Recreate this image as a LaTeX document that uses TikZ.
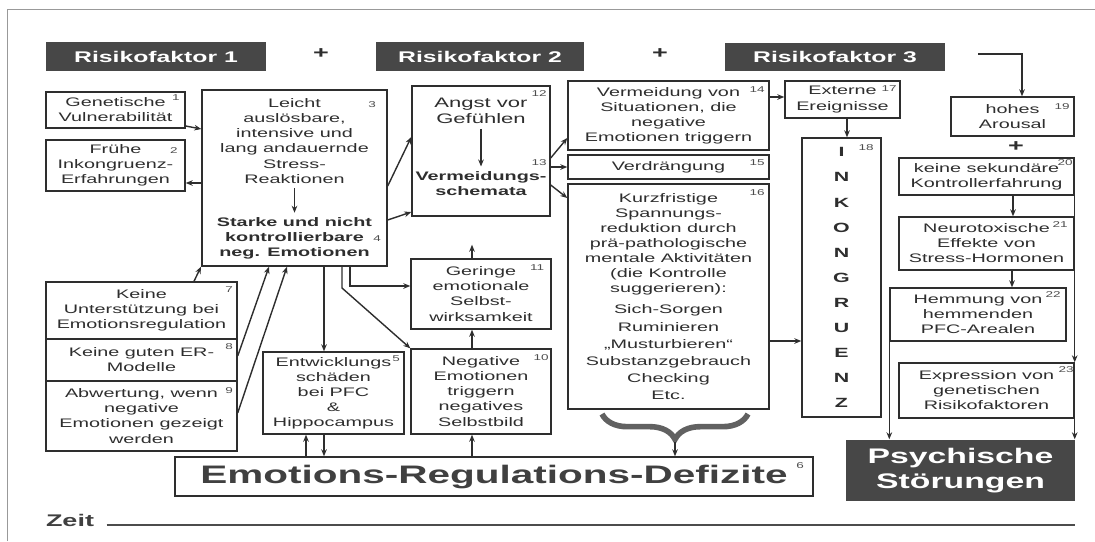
\documentclass[tikz,border=0pt]{standalone}
\usepackage{fontspec}
\setmainfont{Liberation Sans}[FakeStretch=1.6]
\usetikzlibrary{arrows.meta,calc,decorations.pathreplacing}
\newcommand\bxfont{\fontsize{8.8}{10.7}\selectfont}
\tikzstyle{box}=[draw, line width=1pt, rectangle, inner sep=1pt, align=center, font=\bxfont]
\tikzstyle{txt}=[inner sep=1pt, align=center, font=\bxfont]
\tikzstyle{title}=[fill=black!72, text=white, inner sep=0pt, align=center, font=\bfseries\fontsize{11}{13}\selectfont]
\tikzstyle{nr}=[inner sep=0pt, text=black!70, font=\fontsize{6}{6}\selectfont]
\tikzstyle{plus}=[inner sep=0pt, font=\bfseries\fontsize{12}{12}\selectfont]
\tikzset{bx/.style 2 args={minimum width=#1*0.025cm, minimum height=#2*0.025cm}}

\begin{document}
\begin{tikzpicture}[x=0.025cm, y=-0.025cm, color=black!82, line width=1pt, >={Stealth[length=5pt,width=4pt]}]
\useasboundingbox (0,0) rectangle (1095,541);
\draw[black!40, line width=0.6pt] (7,541) -- (7,9) -- (1095,9);
% risk factors
\node[title, bx={220}{29}] (rf1) at (156,56.5) {Risikofaktor 1};
\node[plus] (plus1) at (321,54) {+};
\node[title, bx={208}{29}] (rf2) at (480,56.5) {Risikofaktor 2};
\node[plus] (plus2) at (660,54) {+};
\node[title, bx={220}{28}] (rf3) at (835,57) {Risikofaktor 3};
\coordinate (rf3e) at (978,54);
% left column
\node[box, bx={139}{36}] (b1) at (115.5,110) {Genetische\\Vulnerabilität};
\node[nr] (n1) at (176,98) {1};
\node[box, bx={139}{51}] (b2) at (115.5,165.5) {Frühe\\Inkongruenz-\\Erfahrungen};
\node[nr] (n2) at (174,151) {2};
\node[box, bx={191}{57}] (b7) at (141.5,310.5) {Keine\\Unterstützung bei\\Emotionsregulation};
\node[nr] (n7) at (229,290) {7};
\node[box, bx={191}{42}] (b8) at (141.5,360) {Keine guten ER-\\Modelle};
\node[nr] (n8) at (229,347) {8};
\node[box, bx={191}{70}] (b9) at (141.5,416) {Abwertung, wenn\\negative\\Emotionen gezeigt\\werden};
\node[nr] (n9) at (229,391) {9};
% stress reactions
\node[box, bx={185}{176}] (b3) at (294.5,178) {};
\node[txt] (s3) at (294.5,141) {Leicht\\auslösbare,\\intensive und\\lang andauernde\\Stress-\\Reaktionen};
\node[txt, font=\bfseries\bxfont] (s4) at (294.5,238.5) {Starke und nicht\\kontrollierbare\\neg. Emotionen};
\node[nr] (n3) at (372,105) {3};
\node[nr] (n4) at (377,239) {4};
\node[box, bx={141}{82}] (b5) at (333.5,393) {Entwicklungs\\schäden\\bei PFC\\\&\\Hippocampus};
\node[nr] (n5) at (396,359) {5};
% middle column
\node[box, bx={138}{130}] (b12) at (481,151) {};
\node[txt, font=\fontsize{9.8}{11.5}\selectfont] (s12) at (481,111) {Angst vor\\Gefühlen};
\node[txt, font=\bfseries\bxfont] (s13) at (481,183.5) {Vermeidungs-\\schemata};
\node[nr] (n12) at (539,94) {12};
\node[nr] (n13) at (539,163) {13};
\node[box, bx={140}{70}] (b11) at (481,294) {Geringe\\emotionale\\Selbst-\\wirksamkeit};
\node[nr] (n11) at (537,268) {11};
\node[box, bx={140}{85}] (b10) at (481,391.5) {Negative\\Emotionen\\triggern\\negatives\\Selbstbild};
\node[nr] (n10) at (541,358) {10};
\node[box, bx={638}{39}, text=black!75, font=\bfseries\fontsize{18}{18}\selectfont] (b6) at (494,476.5) {Emotions-Regulations-Defizite};
\node[nr] (n6) at (800,466) {6};
% avoidance
\node[box, bx={201}{69}] (b14) at (668.5,115.5) {Vermeidung von\\Situationen, die\\negative\\Emotionen triggern};
\node[nr] (n14) at (757,90) {14};
\node[box, bx={201}{24}] (b15) at (668.5,167) {Verdrängung};
\node[nr] (n15) at (757,163) {15};
\node[box, bx={201}{225}] (b16) at (668.5,296.5) {Kurzfristige\\Spannungs-\\reduktion durch\\prä-pathologische\\mentale Aktivitäten\\(die Kontrolle\\suggerieren):\\[4.5pt]Sich-Sorgen\\[1.5pt]Ruminieren\\[1.5pt]„Musturbieren“\\[1.5pt]Substanzgebrauch\\[1.5pt]Checking\\[1.5pt]Etc.};
\node[nr] (n16) at (757,193) {16};
\node[box, bx={115}{37}] (b17) at (842.5,99.5) {Externe\\Ereignisse};
\node[nr] (n17) at (889,89) {17};
\node[box, bx={79}{279}, font=\bfseries\fontsize{9.5}{17.8}\selectfont] (b18) at (841.5,277.5) {I\\N\\K\\O\\N\\G\\R\\U\\E\\N\\Z};
\node[nr] (n18) at (866,148) {18};
% right column
\node[box, bx={123}{39}] (b19) at (1012.5,116.5) {hohes\\Arousal};
\node[nr] (n19) at (1062,107) {19};
\node[plus] (plus3) at (1016,147) {+};
\node[box, bx={175}{37}] (b20) at (986.5,176.5) {keine sekundäre\\Kontrollerfahrung};
\node[nr] (n20) at (1065,163) {20};
\node[box, bx={175}{53}] (b21) at (986.5,243.5) {Neurotoxische\\Effekte von\\Stress-Hormonen};
\node[nr] (n21) at (1060,225) {21};
\node[box, bx={176}{53}] (b22) at (978,314.5) {Hemmung von\\hemmenden\\PFC-Arealen};
\node[nr] (n22) at (1053,295) {22};
\node[box, bx={175}{55}] (b23) at (986.5,390.5) {Expression von\\genetischen\\Risikofaktoren};
\node[nr] (n23) at (1066,370) {23};
\node[title, bx={229}{61}, font=\bfseries\fontsize{15}{17.8}\selectfont] (ps) at (960.5,470.5) {Psychische\\Störungen};
% time line
\node[inner sep=0pt, text=black!75, font=\bfseries\fontsize{12}{12}\selectfont] (zeit) at (70,520) {Zeit};
\coordinate (zend) at (1075,525);
\draw[line width=1.4pt, black!70] (zeit.east |- zend) ++(12,0) -- (zend);
% connectors
\draw[->] (b1.east |- 0,126) -- (b3.west |- 0,129);
\draw[->] (b3.west |- 0,183) -- (b2.east |- 0,183);
\draw[->] (b7.north -| 194,0) -- (b3.south -| 201,0);
\draw[->] (b8.east |- 0,356) -- (b3.south -| 269,0);
\draw[->] (b9.east |- 0,413) -- (b3.south -| 287,0);
\draw[->, shorten <=2pt, shorten >=2pt] (s3.south) -- (s4.north);
\draw[->, shorten <=2pt, shorten >=2pt] (s12.south) -- (s13.north);
\draw[->] (b3.east |- 0,186) -- (b12.west |- 0,137);
\draw[->] (b3.east |- 0,220) -- (b12.west |- 0,212);
\draw[->] (b12.east |- 0,158) -- (b14.west |- 0,138);
\draw[->] (b12.east |- 0,167) -- (b15.west);
\draw[->] (b12.east |- 0,185) -- (b16.west |- 0,198);
\draw[->] (b3.south -| 324,0) -- (b5.north -| 324,0);
\draw[->] (b3.south -| 350,0) |- (b11.west |- 0,286);
\draw[->] (b3.south -| 342,0) -- (342,288) -- (b10.north west);
\draw[->] (b6.north -| 306,0) -- (b5.south -| 306,0);
\draw[->] (b5.south -| 324,0) -- (b6.north -| 324,0);
\draw[->] (b6.north -| 472,0) -- (b10.south -| 472,0);
\draw[->] (b10.north -| 472,0) -- (b11.south -| 472,0);
\draw[->, shorten >=0.7cm] (b11.north -| 472,0) -- (b12.south -| 472,0);
\draw[->] (b14.east |- 0,97) -- (b17.west |- 0,97);
\draw[->] (b17.south -| 847,0) -- (b18.north -| 847,0);
\draw[->] (b16.east |- 0,341) -- (b18.west |- 0,341);
\draw[->] (rf3e) -| (b19.north -| 1022,0);
\draw[->] (b20.south -| 1013,0) -- (b21.north -| 1013,0);
\draw[->] (b21.south -| 1012,0) -- (b22.north -| 1012,0);
\draw[->] (b20.south east) -- (b23.north east);
\draw[->] (b23.south east) -- (ps.north -| b23.south east);
\draw[->] (b22.south west) -- (ps.north -| b22.south west);
% brace
\draw[decorate, decoration={brace, amplitude=18pt}, line width=4pt, black!62] (748,414) -- (602,414);
\coordinate (bt) at (675,442);
\draw[->] (bt) -- (b6.north -| bt);
\end{tikzpicture}
\end{document}
